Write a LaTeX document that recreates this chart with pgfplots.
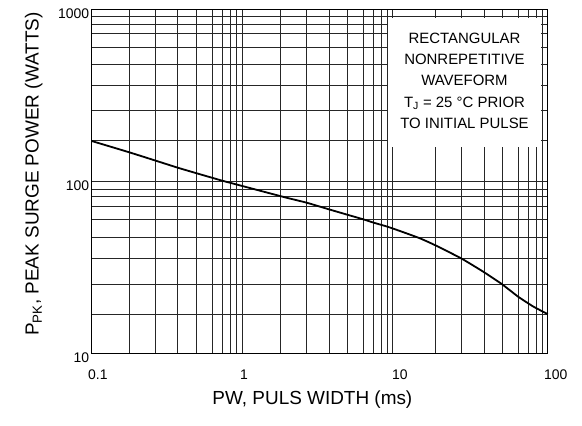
\documentclass[border=0pt]{standalone}
\usepackage{fontspec}
\setmainfont{Liberation Sans}
\usepackage{pgfplots}
\pgfplotsset{compat=1.18}

\begin{document}
\begin{tikzpicture}
\begin{axis}[name=ax,
  scale only axis, width=456bp, height=344bp,
  xmode=log, ymode=log,
  xmin=0.1, xmax=100, ymin=10, ymax=1000,
  xtick={0.1,1,10,100}, xticklabels={0.1,1,10,100},
  ytick={10,100,1000}, yticklabels={10,100,1000},
  minor xtick={0.1768,0.2637,0.368,0.4907,0.6254,0.7232,0.8127,0.8994,0.979,
               1.751,2.597,3.64,4.804,6.12,7.12,8.004,8.806,9.556,
               18.33,27.19,38.27,50.57,64.1,74.54,84.65,92.15},
  minor ytick={16.92,25.29,35.67,47.26,60.12,71.16,81.38,89.6,
               172.2,259.8,359.6,480.8,601.2,725.4,821.3,914.4},
  xmajorgrids=false, xminorgrids=true,
  ymajorgrids=true, yminorgrids=true,
  major grid style={black!85, line width=0.8bp},
  minor grid style={black!85, line width=0.8bp},
  major tick length=0pt, minor tick length=0pt,
  axis line style={black, line width=1.1bp},
  /pgf/number format/assume math mode=true,
  tick label style={font=\fontsize{14}{16}\selectfont},
  xticklabel style={anchor=north west, xshift=-7bp, yshift=-13bp},
  yticklabel style={anchor=north east, xshift=1bp, yshift=4bp},
  xlabel={PW, PULS WIDTH (ms)},
  ylabel={P\textsubscript{PK}, PEAK SURGE POWER (WATTS)},
  label style={font=\fontsize{19}{22}\selectfont},
  xlabel style={at={(axis description cs:0.484,-0.135)}, anchor=center},
  ylabel style={at={(axis description cs:-0.127,0.521)}, anchor=center},
  clip=false,
]
\addplot[black, line width=1.8bp, smooth, tension=0.3] coordinates {
(0.1,171.5) (0.1768,147.4) (0.2637,131.8) (0.368,120.0) (0.4907,111.3)
(0.7232,100.8) (0.979,93.9) (1.869,80.7) (2.597,75.1) (3.64,68.7)
(4.878,63.7) (6.12,60.1) (7.196,57.4) (8.806,54.5) (10.67,51.4)
(14.45,46.6) (18.61,42.1) (27.19,35.5) (37.7,29.8) (49.8,25.3)
(64.1,21.3) (80.4,18.7) (100,16.9)
};
\fill[white] (rel axis cs:0.650,0.600) rectangle (rel axis cs:0.985,0.975);
\node[align=center, font=\fontsize{15}{21.5}\selectfont]
  at (rel axis cs:0.8175,0.792)
  {RECTANGULAR\\NONREPETITIVE\\WAVEFORM\\T\textsubscript{J} = 25 °C PRIOR\\TO INITIAL PULSE};
\end{axis}
\pgfresetboundingbox
\path[use as bounding box] ([shift={(-91.7bp,-72.7bp)}]ax.south west)
  rectangle ([shift={(34.3bp,9.3bp)}]ax.north east);
\end{tikzpicture}
\end{document}
